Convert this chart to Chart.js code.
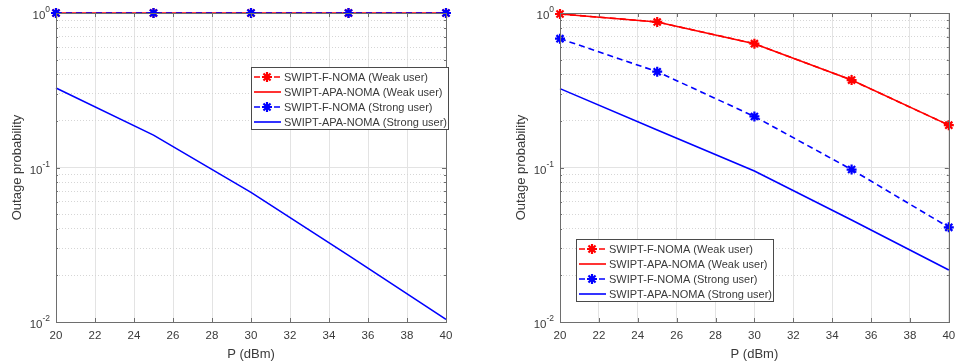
<!DOCTYPE html>
<html>
<head>
<meta charset="utf-8">
<script src="https://cdn.jsdelivr.net/npm/chart.js"></script>
<style>
  html, body { margin: 0; padding: 0; background: #fff; }
  .wrap { position: relative; width: 956px; height: 364px; }
  .box { position: absolute; top: 0; width: 478px; height: 364px; }
</style>
</head>
<body>
<div class="wrap">
  <div class="box" style="left:0"><canvas id="chartL" width="478" height="364"></canvas></div>
  <div class="box" style="left:478px"><canvas id="chartR" width="478" height="364"></canvas></div>
</div>
<script>
// transmit power (dBm)
const powerDbm = [20, 25, 30, 35, 40];
const xTicks = [20, 22, 24, 26, 28, 30, 32, 34, 36, 38, 40];
// decade labels: mantissa and exponent
const yDecades = [0.01, 0.1, 1];
const yExponents = ['-2', '-1', '0'];

// left panel
const leftWeakF = [1, 1, 1, 1, 1];
const leftWeakAPA = [1, 1, 1, 1, 1];
const leftStrongF = [1, 1, 1, 1, 1];
const leftStrongAPA = [0.327, 0.162, 0.069, 0.027, 0.0104];

// right panel
const rightWeakF = [0.985, 0.875, 0.633, 0.368, 0.188];
const rightWeakAPA = [0.985, 0.875, 0.633, 0.368, 0.188];
const rightStrongF = [0.682, 0.417, 0.214, 0.097, 0.041];
const rightStrongAPA = [0.324, 0.175, 0.095, 0.0457, 0.0217];

const seriesNames = [
    'SWIPT-F-NOMA (Weak user)',
    'SWIPT-APA-NOMA (Weak user)',
    'SWIPT-F-NOMA (Strong user)',
    'SWIPT-APA-NOMA (Strong user)'
];

const RED = '#ff0000';
const BLUE = '#0000ff';
const AXIS = '#6e6e6e';
const TEXT = '#3a3a3a';
const FONT = "'Liberation Sans', Arial, sans-serif";
const DASH = [6, 4];

function isDecade(v) {
    const l = Math.log10(v);
    return Math.abs(l - Math.round(l)) < 1e-6;
}

function makeDataset(i, values) {
    const color = i < 2 ? RED : BLUE;
    const marked = i % 2 === 0;
    return {
        label: seriesNames[i],
        data: powerDbm.map((p, k) => ({ x: p, y: values[k] })),
        borderColor: color,
        backgroundColor: color,
        borderWidth: 1.6,
        borderDash: marked ? DASH : [],
        pointStyle: 'star',
        pointRadius: marked ? 5 : 0,
        pointBorderWidth: 2.2,
        pointBorderColor: color,
        tension: 0,
        clip: false,
        order: 3 - i
    };
}

// axes box, inward ticks, 10^n labels and the legend
const framePlugin = {
    id: 'frame',
    afterDraw(chart, args, opts) {
        const { ctx, chartArea: a, scales } = chart;
        ctx.save();
        ctx.strokeStyle = AXIS;
        ctx.lineWidth = 1;
        scales.x.ticks.forEach(t => {
            const px = Math.round(scales.x.getPixelForValue(t.value)) + 0.5;
            ctx.beginPath();
            ctx.moveTo(px, a.bottom); ctx.lineTo(px, a.bottom - 4);
            ctx.moveTo(px, a.top); ctx.lineTo(px, a.top + 4);
            ctx.stroke();
        });
        scales.y.ticks.forEach(t => {
            const py = Math.round(scales.y.getPixelForValue(t.value)) + 0.5;
            const len = isDecade(t.value) ? 4 : 2;
            ctx.beginPath();
            ctx.moveTo(a.left, py); ctx.lineTo(a.left + len, py);
            ctx.moveTo(a.right, py); ctx.lineTo(a.right - len, py);
            ctx.stroke();
        });
        ctx.strokeRect(Math.round(a.left) + 0.5, Math.round(a.top) + 0.5,
            Math.round(a.right - a.left), Math.round(a.bottom - a.top));

        // y decade labels as 10 with a raised exponent
        ctx.fillStyle = TEXT;
        ctx.textBaseline = 'middle';
        ctx.textAlign = 'left';
        yDecades.forEach((d, i) => {
            const py = scales.y.getPixelForValue(d);
            ctx.font = '8.5px ' + FONT;
            const ew = ctx.measureText(yExponents[i]).width;
            ctx.font = '11.5px ' + FONT;
            const mw = ctx.measureText('10').width;
            const x0 = a.left - 6 - ew - mw;
            ctx.fillText('10', x0, py + 3);
            ctx.font = '8.5px ' + FONT;
            ctx.fillText(yExponents[i], x0 + mw, py - 3);
        });

        // legend box
        const lg = opts.legend;
        ctx.fillStyle = '#fff';
        ctx.fillRect(lg.x, lg.y, lg.w, lg.h);
        ctx.strokeStyle = '#4a4a4a';
        ctx.strokeRect(lg.x + 0.5, lg.y + 0.5, lg.w, lg.h);
        ctx.font = '11px ' + FONT;
        chart.data.datasets.forEach((ds, i) => {
            const ry = lg.y + 10 + i * 15;
            ctx.strokeStyle = ds.borderColor;
            ctx.lineWidth = 1.6;
            ctx.setLineDash(ds.borderDash);
            ctx.beginPath();
            ctx.moveTo(lg.x + 3, ry); ctx.lineTo(lg.x + 30, ry);
            ctx.stroke();
            ctx.setLineDash([]);
            if (ds.pointRadius > 0) {
                ctx.lineWidth = 2.2;
                Chart.helpers.drawPoint(ctx, { pointStyle: 'star', radius: 5, borderWidth: 2.2 }, lg.x + 16, ry);
            }
            ctx.fillStyle = TEXT;
            ctx.fillText(ds.label, lg.x + 33, ry + 1);
        });
        ctx.restore();
    }
};

function makeOptions(padLeft, legend) {
    return {
        responsive: false,
        animation: false,
        layout: { padding: { left: padLeft, right: 478 - padLeft - 56 - 390, top: 13, bottom: 0 } },
        plugins: {
            legend: { display: false },
            tooltip: { enabled: false },
            frame: { legend: legend }
        },
        scales: {
            x: {
                type: 'linear',
                min: 20,
                max: 40,
                afterBuildTicks(scale) { scale.ticks = xTicks.map(v => ({ value: v })); },
                afterFit(scale) {
                    scale.height = 42;
                    scale.paddingLeft = 0;
                    scale.paddingRight = 0;
                },
                ticks: {
                    color: TEXT,
                    font: { family: FONT, size: 11.5 },
                    padding: 7,
                    maxRotation: 0,
                    autoSkip: false
                },
                grid: { color: '#e3e3e3', lineWidth: 1, drawTicks: false },
                border: { display: false },
                title: {
                    display: true,
                    text: 'P (dBm)',
                    color: TEXT,
                    font: { family: FONT, size: 13 },
                    padding: { top: 0, bottom: 2 }
                }
            },
            y: {
                type: 'logarithmic',
                min: 0.01,
                max: 1,
                afterBuildTicks(scale) {
                    const t = [];
                    [0.01, 0.1].forEach(d => {
                        for (let m = 1; m < 10; m++) t.push({ value: +(d * m).toPrecision(3) });
                    });
                    t.push({ value: 1 });
                    scale.ticks = t;
                },
                afterFit(scale) {
                    scale.width = 56;
                    scale.paddingTop = 0;
                    scale.paddingBottom = 0;
                },
                ticks: {
                    padding: 6,
                    autoSkip: false,
                    callback: () => ''
                },
                grid: {
                    drawTicks: false,
                    color: c => (c.tick && isDecade(c.tick.value)) ? '#e3e3e3' : '#d6d6d6'
                },
                border: {
                    display: false,
                    dash: c => (c.tick && !isDecade(c.tick.value)) ? [1, 2] : []
                },
                title: {
                    display: true,
                    text: 'Outage probability',
                    color: TEXT,
                    font: { family: FONT, size: 13 },
                    padding: { top: 10, bottom: 0 }
                }
            }
        }
    };
}

new Chart(document.getElementById('chartL'), {
    type: 'line',
    data: {
        datasets: [
            makeDataset(0, leftWeakF),
            makeDataset(1, leftWeakAPA),
            makeDataset(2, leftStrongF),
            makeDataset(3, leftStrongAPA)
        ]
    },
    options: makeOptions(0, { x: 251, y: 67, w: 197, h: 62 }),
    plugins: [framePlugin]
});

new Chart(document.getElementById('chartR'), {
    type: 'line',
    data: {
        datasets: [
            makeDataset(0, rightWeakF),
            makeDataset(1, rightWeakAPA),
            makeDataset(2, rightStrongF),
            makeDataset(3, rightStrongAPA)
        ]
    },
    options: makeOptions(26, { x: 98, y: 239, w: 197, h: 62 }),
    plugins: [framePlugin]
});
</script>
</body>
</html>
